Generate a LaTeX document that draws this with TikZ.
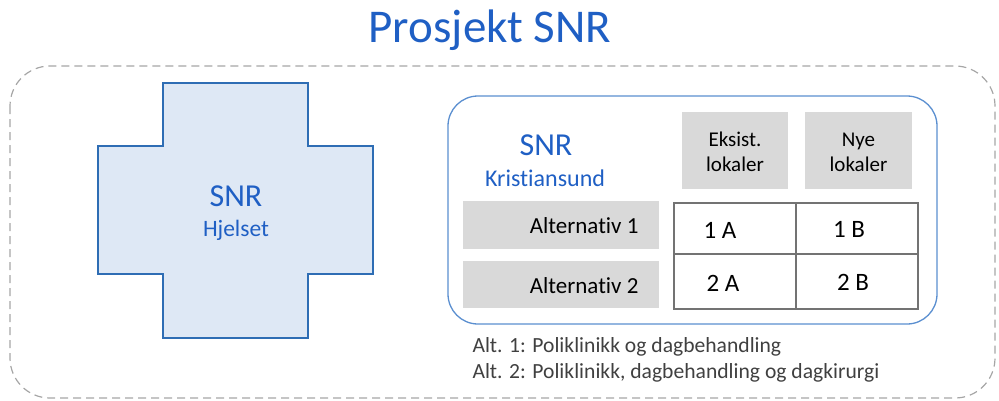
\documentclass[tikz,border=0pt]{standalone}
\usepackage{fontspec}
\setmainfont{Carlito}[Ligatures=NoCommon]
\definecolor{titleblue}{HTML}{1F5FC4}
\definecolor{crossfill}{HTML}{DEE8F5}
\definecolor{crossline}{HTML}{2E6DB4}
\definecolor{boxline}{HTML}{5B8FD0}
\definecolor{graybox}{HTML}{D9D9D9}
\definecolor{txtgray}{HTML}{404040}
\definecolor{dashgray}{HTML}{A6A6A6}
\newcommand{\fsz}[1]{\fontsize{#1}{1.2\dimexpr #1pt\relax}\selectfont}
\begin{document}
\begin{tikzpicture}[x=1pt,y=-1pt,
  hdrbox/.style={draw=none,text=black,align=center,font=\fontsize{21}{25}\selectfont},
  altbox/.style={draw=none,text=black,font=\fsz{23}},
  celltxt/.style={font=\fsz{25},text=black},
]
\useasboundingbox (0,0) rectangle (999,400);
% title
\node[text=titleblue,font=\fsz{47}] (title) at (490,30) {Prosjekt SNR};
% outer dashed frame
\draw[dashgray,line width=1.2pt,dash pattern=on 8pt off 5pt,rounded corners=40pt] (10,66) rectangle (995,398);
% cross
\draw[crossline,fill=crossfill,line width=2.2pt]
  (163,83) -- (308,83) -- (308,146) -- (373,146) -- (373,274) -- (308,274)
  -- (308,338) -- (163,338) -- (163,274) -- (98,274) -- (98,146) -- (163,146) -- cycle;
\node[text=titleblue,font=\fsz{32}] (snrh) at (236,196) {SNR};
\node[text=titleblue,font=\fsz{23.5}] (hjelset) at (236,230) {Hjelset};
% inner box
\draw[boxline,line width=1.3pt,rounded corners=30pt] (448,96) rectangle (937,324);
\node[text=titleblue,font=\fsz{32}] (snrk) at (546,145) {SNR};
\node[text=titleblue,font=\fsz{24}] (kristiansund) at (545,178) {Kristiansund};
% header boxes
\fill[graybox] (682,112) rectangle (788,189);
\node[hdrbox] (eksist) at (735,152) {Eksist.\\lokaler};
\fill[graybox] (805,112) rectangle (912,189);
\node[hdrbox] (nye) at (858.5,152) {Nye\\lokaler};
% alternative boxes
\fill[graybox] (463,201) rectangle (659,249);
\node[altbox,anchor=east] (alt1) at (642,226) {Alternativ 1};
\fill[graybox] (463,261) rectangle (659,308);
\node[altbox,anchor=east] (alt2) at (642,286) {Alternativ 2};
% grid
\draw[black!55,line width=1.3pt] (674,203) rectangle (918,309);
\draw[black!55,line width=1.3pt] (796,203) -- (796,309);
\draw[black!55,line width=1.3pt] (674,254) -- (918,254);
\node[celltxt] (c1a) at (720,230) {1 A};
\node[celltxt] (c1b) at (849,229) {1 B};
\node[celltxt] (c2a) at (723,283) {2 A};
\node[celltxt] (c2b) at (853,282) {2 B};
% footnotes
\node[anchor=west,text=txtgray,font=\fsz{21.6}] (fn1) at (469,347) {Alt. 1: Poliklinikk og dagbehandling};
\node[anchor=west,text=txtgray,font=\fsz{21.6}] (fn2) at (469,373) {Alt. 2: Poliklinikk, dagbehandling og dagkirurgi};
\end{tikzpicture}
\end{document}
